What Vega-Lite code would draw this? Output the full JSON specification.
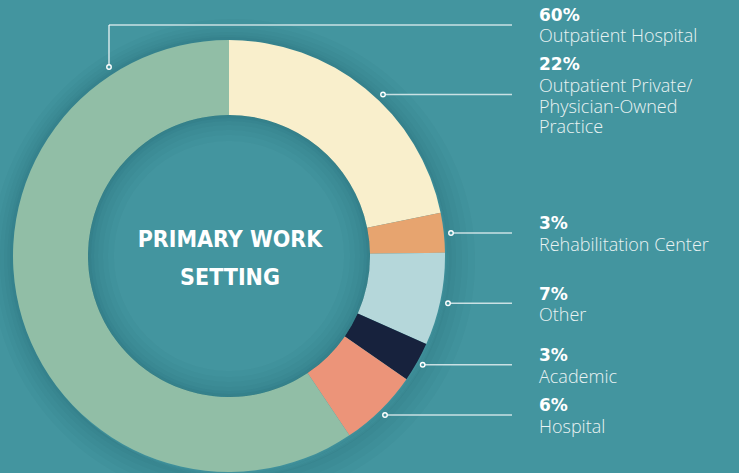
{
  "$schema": "https://vega.github.io/schema/vega-lite/v6.json",
  "width": 739,
  "height": 473,
  "autosize": "none",
  "padding": 0,
  "background": "#43959f",
  "config": {"view": {"stroke": null}},
  "datasets": {
    "slices": [
      {"category": "Outpatient Private/Physician-Owned Practice", "pct": 22, "order": 1},
      {"category": "Rehabilitation Center", "pct": 3, "order": 2},
      {"category": "Other", "pct": 7, "order": 3},
      {"category": "Academic", "pct": 3, "order": 4},
      {"category": "Hospital", "pct": 6, "order": 5},
      {"category": "Outpatient Hospital", "pct": 60, "order": 6}
    ],
    "labels": [
      {"pct": "60%", "name": "Outpatient Hospital", "x": 539, "py": 20.7, "ny": 41.7},
      {"pct": "22%", "name": "Outpatient Private/\nPhysician-Owned\nPractice", "x": 539, "py": 70, "ny": 92},
      {"pct": "3%", "name": "Rehabilitation Center", "x": 539, "py": 229.3, "ny": 250.7},
      {"pct": "7%", "name": "Other", "x": 539, "py": 300, "ny": 320.7},
      {"pct": "3%", "name": "Academic", "x": 539, "py": 361, "ny": 382.7},
      {"pct": "6%", "name": "Hospital", "x": 539, "py": 410.7, "ny": 433.3}
    ],
    "leaders": [
      {"x": 109, "y": 67, "x2": 109, "y2": 25, "dot": true},
      {"x": 109, "y": 25, "x2": 512, "y2": 25, "dot": false},
      {"x": 383, "y": 94.5, "x2": 512, "y2": 94.5, "dot": true},
      {"x": 451, "y": 233, "x2": 512, "y2": 233, "dot": true},
      {"x": 448, "y": 303.3, "x2": 512, "y2": 303.3, "dot": true},
      {"x": 422.7, "y": 364.7, "x2": 512, "y2": 364.7, "dot": true},
      {"x": 385, "y": 415, "x2": 512, "y2": 415, "dot": true}
    ]
  },
  "layer": [
    {
      "data": {"values": [{"ring": "outer shadow"}]},
      "mark": {"type": "arc", "theta": 0, "theta2": 6.2832, "radius": 216, "radius2": 242, "color": "#0b3a40", "opacity": 0.03},
      "encoding": {
        "x": {"datum": 233, "type": "quantitative", "scale": {"domain": [0, 739], "nice": false, "zero": false}, "axis": null},
        "y": {"datum": 261, "type": "quantitative", "scale": {"domain": [0, 473], "nice": false, "zero": false, "reverse": true}, "axis": null}
      }
    },
    {
      "data": {"values": [{"ring": "outer shadow"}]},
      "mark": {"type": "arc", "theta": 0, "theta2": 6.2832, "radius": 216, "radius2": 236, "color": "#0b3a40", "opacity": 0.03},
      "encoding": {"x": {"datum": 232, "type": "quantitative"}, "y": {"datum": 260, "type": "quantitative"}}
    },
    {
      "data": {"values": [{"ring": "outer shadow"}]},
      "mark": {"type": "arc", "theta": 0, "theta2": 6.2832, "radius": 216, "radius2": 231, "color": "#0b3a40", "opacity": 0.03},
      "encoding": {"x": {"datum": 231, "type": "quantitative"}, "y": {"datum": 259, "type": "quantitative"}}
    },
    {
      "data": {"values": [{"ring": "outer shadow"}]},
      "mark": {"type": "arc", "theta": 0, "theta2": 6.2832, "radius": 216, "radius2": 226, "color": "#0b3a40", "opacity": 0.03},
      "encoding": {"x": {"datum": 230, "type": "quantitative"}, "y": {"datum": 258, "type": "quantitative"}}
    },
    {
      "data": {"values": [{"ring": "outer shadow"}]},
      "mark": {"type": "arc", "theta": 0, "theta2": 6.2832, "radius": 216, "radius2": 222, "color": "#0b3a40", "opacity": 0.03},
      "encoding": {"x": {"datum": 229.5, "type": "quantitative"}, "y": {"datum": 257, "type": "quantitative"}}
    },
    {
      "data": {"values": [{"ring": "outer shadow"}]},
      "mark": {"type": "arc", "theta": 0, "theta2": 6.2832, "radius": 216, "radius2": 219, "color": "#0b3a40", "opacity": 0.04},
      "encoding": {"x": {"datum": 229, "type": "quantitative"}, "y": {"datum": 256, "type": "quantitative"}}
    },
    {
      "data": {"name": "slices"},
      "mark": {"type": "arc", "radius": 216, "radius2": 141},
      "encoding": {
        "x": {"datum": 229, "type": "quantitative"},
        "y": {"datum": 256, "type": "quantitative"},
        "theta": {"field": "pct", "type": "quantitative", "stack": true},
        "order": {"field": "order", "type": "quantitative"},
        "color": {
          "field": "category",
          "type": "nominal",
          "legend": null,
          "scale": {
            "domain": ["Outpatient Private/Physician-Owned Practice", "Rehabilitation Center", "Other", "Academic", "Hospital", "Outpatient Hospital"],
            "range": ["#f9efcc", "#e7a46f", "#b5d7da", "#17223d", "#ec9479", "#91bea6"]
          }
        }
      }
    },
    {
      "data": {"values": [{"ring": "inner shadow"}]},
      "mark": {"type": "arc", "theta": 0, "theta2": 6.2832, "radius": 141, "radius2": 115, "color": "#0b3a40", "opacity": 0.03},
      "encoding": {"x": {"datum": 229, "type": "quantitative"}, "y": {"datum": 256, "type": "quantitative"}}
    },
    {
      "data": {"values": [{"ring": "inner shadow"}]},
      "mark": {"type": "arc", "theta": 0, "theta2": 6.2832, "radius": 141, "radius2": 121, "color": "#0b3a40", "opacity": 0.03},
      "encoding": {"x": {"datum": 229, "type": "quantitative"}, "y": {"datum": 256, "type": "quantitative"}}
    },
    {
      "data": {"values": [{"ring": "inner shadow"}]},
      "mark": {"type": "arc", "theta": 0, "theta2": 6.2832, "radius": 141, "radius2": 126, "color": "#0b3a40", "opacity": 0.03},
      "encoding": {"x": {"datum": 229, "type": "quantitative"}, "y": {"datum": 256, "type": "quantitative"}}
    },
    {
      "data": {"values": [{"ring": "inner shadow"}]},
      "mark": {"type": "arc", "theta": 0, "theta2": 6.2832, "radius": 141, "radius2": 131, "color": "#0b3a40", "opacity": 0.03},
      "encoding": {"x": {"datum": 229, "type": "quantitative"}, "y": {"datum": 256, "type": "quantitative"}}
    },
    {
      "data": {"values": [{"ring": "inner shadow"}]},
      "mark": {"type": "arc", "theta": 0, "theta2": 6.2832, "radius": 141, "radius2": 135, "color": "#0b3a40", "opacity": 0.04},
      "encoding": {"x": {"datum": 229, "type": "quantitative"}, "y": {"datum": 256, "type": "quantitative"}}
    },
    {
      "data": {"values": [{"ring": "inner shadow"}]},
      "mark": {"type": "arc", "theta": 0, "theta2": 6.2832, "radius": 141, "radius2": 138, "color": "#0b3a40", "opacity": 0.05},
      "encoding": {"x": {"datum": 229, "type": "quantitative"}, "y": {"datum": 256, "type": "quantitative"}}
    },
    {
      "data": {"name": "leaders"},
      "mark": {"type": "rule", "color": "#ffffff", "opacity": 0.72, "strokeWidth": 1.6},
      "encoding": {
        "x": {"field": "x", "type": "quantitative"},
        "y": {"field": "y", "type": "quantitative"},
        "x2": {"field": "x2"},
        "y2": {"field": "y2"}
      }
    },
    {
      "data": {"name": "leaders"},
      "transform": [{"filter": "datum.dot"}],
      "mark": {"type": "point", "filled": false, "fill": "#43959f", "fillOpacity": 1, "stroke": "#ffffff", "strokeWidth": 1.4, "size": 20, "opacity": 1},
      "encoding": {
        "x": {"field": "x", "type": "quantitative"},
        "y": {"field": "y", "type": "quantitative"}
      }
    },
    {
      "data": {"name": "labels"},
      "mark": {"type": "text", "align": "left", "baseline": "alphabetic", "font": "DejaVu Sans", "fontWeight": "bold", "fontSize": 17, "color": "#ffffff"},
      "encoding": {
        "x": {"field": "x", "type": "quantitative"},
        "y": {"field": "py", "type": "quantitative"},
        "text": {"field": "pct"}
      }
    },
    {
      "data": {"name": "labels"},
      "mark": {"type": "text", "align": "left", "baseline": "alphabetic", "font": "Open Sans", "fontWeight": 300, "fontSize": 18, "lineBreak": "\n", "lineHeight": 20.7, "color": "#eaf3f3"},
      "encoding": {
        "x": {"field": "x", "type": "quantitative"},
        "y": {"field": "ny", "type": "quantitative"},
        "text": {"field": "name"}
      }
    },
    {
      "data": {"values": [{"title": "PRIMARY WORK\nSETTING"}]},
      "mark": {"type": "text", "align": "center", "baseline": "alphabetic", "font": "DejaVu Sans Condensed", "fontWeight": "bold", "fontSize": 23, "lineBreak": "\n", "lineHeight": 38, "color": "#ffffff"},
      "encoding": {
        "x": {"datum": 230, "type": "quantitative"},
        "y": {"datum": 247, "type": "quantitative"},
        "text": {"field": "title"}
      }
    }
  ]
}
